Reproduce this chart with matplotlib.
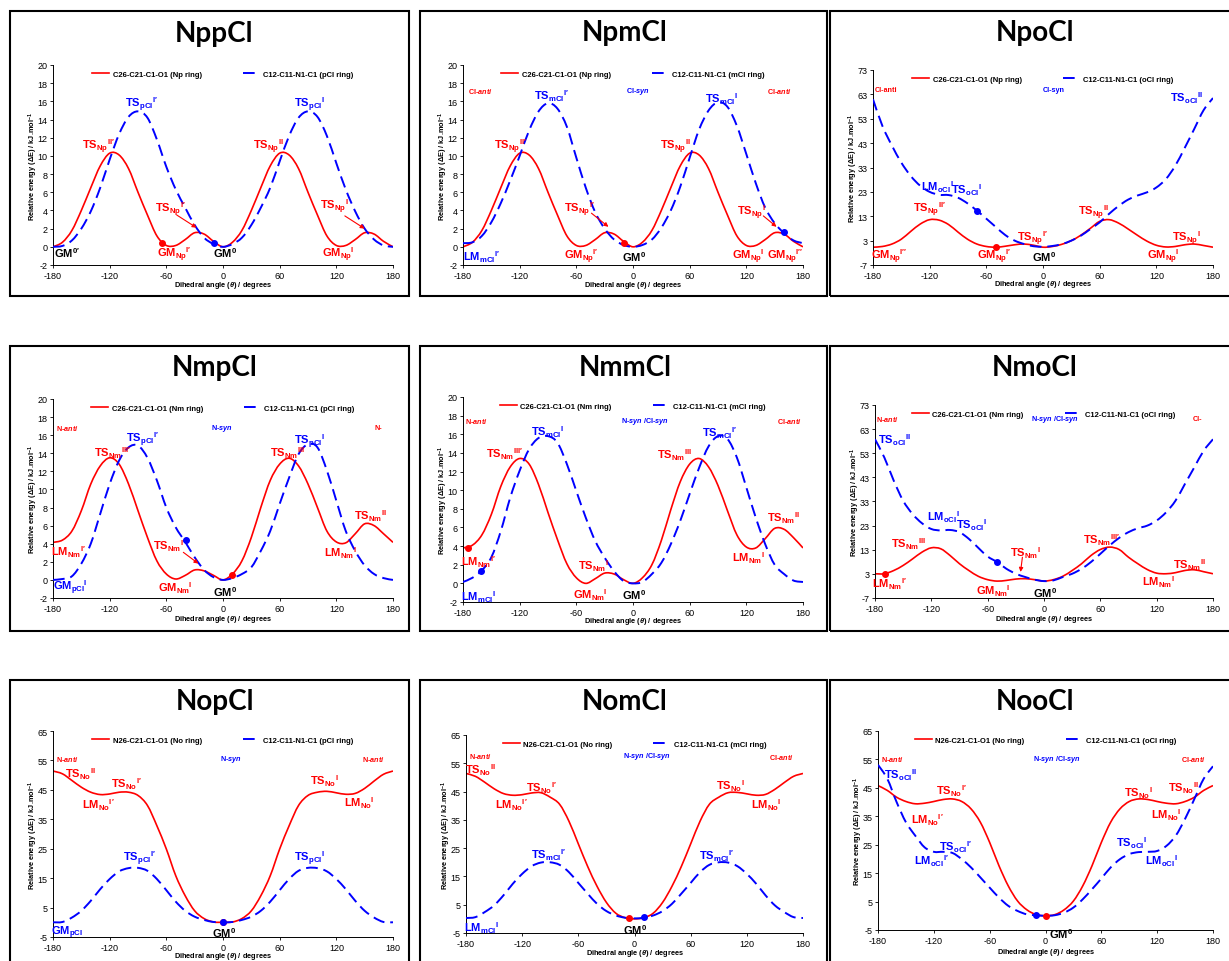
import numpy as np
import matplotlib
matplotlib.use('Agg')
import matplotlib.pyplot as plt
from matplotlib.path import Path
from matplotlib.patches import PathPatch, Rectangle
from matplotlib.lines import Line2D

plt.rcParams['font.family'] = ['Liberation Sans', 'DejaVu Sans']
plt.rcParams['axes.unicode_minus'] = False
plt.rcParams['mathtext.fontset'] = 'custom'
plt.rcParams['mathtext.rm'] = 'Liberation Sans:bold'
plt.rcParams['mathtext.bf'] = 'Liberation Sans:bold'
plt.rcParams['mathtext.sf'] = 'Liberation Sans:bold'
plt.rcParams['mathtext.it'] = 'Liberation Sans:italic:bold'

W, H = 1229, 962
RED, BLUE = '#ff0000', '#0000ff'

# dihedral angle grid (degrees)
angles = [-180, -170, -160, -150, -140, -130, -120, -110, -100, -90, -80, -70,
          -60, -50, -40, -30, -20, -10, 0, 10, 20, 30, 40, 50, 60, 70, 80, 90,
          100, 110, 120, 130, 140, 150, 160, 170, 180]

# relative energies (kJ/mol)
nppcl_np = [0, 0.5, 1.8, 4.0, 6.5, 8.9, 10.3, 10.1, 8.6, 6.0, 3.5, 1.2, 0.15, 0.15, 0.8, 1.55, 1.4, 0.6,
            0, 0.5, 1.8, 4.0, 6.5, 8.9, 10.3, 10.1, 8.6, 6.0, 3.5, 1.2, 0.15, 0.15, 0.8, 1.55, 1.4, 0.6, 0]
nppcl_pcl = [0, 0.1, 0.7, 2.0, 3.9, 6.5, 9.6, 12.4, 14.3, 14.9, 14.2, 11.8, 8.8, 6.3, 4.3, 2.4, 1.0, 0.3,
             0, 0.3, 1.0, 2.4, 4.3, 6.5, 9.4, 12.2, 14.2, 14.9, 14.3, 12.2, 9.2, 6.3, 3.9, 2.0, 0.8, 0.15, 0]

npmcl_np = [0, 0.5, 1.8, 4.0, 6.5, 8.9, 10.3, 10.1, 8.6, 6.0, 3.5, 1.2, 0.15, 0.15, 0.8, 1.55, 1.4, 0.6,
            0, 0.5, 1.8, 4.0, 6.5, 8.9, 10.3, 10.1, 8.6, 6.0, 3.5, 1.2, 0.15, 0.15, 0.8, 1.55, 1.4, 0.6, 0]
npmcl_mcl = [0.4, 0.5, 1.2, 2.7, 4.8, 7.3, 10.0, 12.8, 14.9, 15.8, 15.2, 13.2, 9.8, 6.5, 3.8, 2.0, 0.8, 0.2,
             0, 0.2, 0.8, 2.1, 4.0, 6.6, 9.8, 12.9, 15.0, 15.9, 15.4, 13.3, 10.2, 7.0, 4.3, 2.6, 1.5, 0.7, 0.4]

npocl_np = [0.3, 0.6, 1.6, 3.6, 6.8, 9.8, 11.6, 11.4, 9.6, 6.5, 3.6, 1.6, 0.6, 0.3, 0.7, 1.3, 1.6, 1.1,
            0.3, 0.6, 1.5, 3.0, 5.2, 8.0, 10.9, 11.6, 10.2, 7.8, 5.2, 2.8, 1.1, 0.4, 0.6, 1.3, 1.6, 1.0, 0.3]
npocl_ocl = [61, 50, 42, 35, 29.5, 25.5, 23, 21.8, 21.7, 20.6, 18.3, 15.3, 12, 8.6, 5.3, 3, 1.6, 0.7,
             0.5, 0.8, 1.6, 3, 5, 7.7, 10.5, 14, 17.2, 19.8, 21.5, 22.8, 24.8, 28.2, 33.7, 41, 48.7, 56.5, 61.5]

nmpcl_nm = [4.15, 4.4, 5.4, 7.65, 10.6, 12.6, 13.5, 12.8, 10.6, 7.65, 4.7, 2.1, 0.65, 0.1, 0.5, 1.1, 1.0, 0.5,
            0, 0.65, 2.1, 4.7, 8.0, 11.0, 12.8, 13.45, 12.6, 10.6, 8.0, 5.4, 4.2, 4.1, 5.1, 6.2, 6.0, 5.1, 4.15]
nmpcl_pcl = [0, 0.1, 0.4, 1.8, 4.0, 7.3, 10.6, 13.2, 14.65, 14.85, 13.5, 11.0, 8.0, 5.8, 4.2, 2.5, 1.1, 0.3,
             0, 0.2, 0.65, 1.4, 3.2, 5.4, 8.4, 11.3, 13.9, 15.0, 14.65, 12.1, 8.75, 5.4, 3.2, 1.6, 0.65, 0.2, 0]

nmmcl_nm = [3.8, 4.1, 5.2, 7.4, 10.4, 12.5, 13.4, 12.8, 10.6, 7.6, 4.7, 2.1, 0.6, 0.0, 0.5, 1.1, 1.0, 0.4,
            0, 0.6, 2.0, 4.6, 7.9, 10.9, 12.8, 13.4, 12.5, 10.5, 7.8, 5.2, 3.9, 3.8, 4.8, 5.9, 5.8, 4.9, 3.8]
nmmcl_mcl = [0.15, 0.6, 1.4, 2.8, 5.6, 9.2, 12.1, 14.4, 15.6, 15.8, 15.1, 12.8, 9.9, 7.05, 4.55, 2.76, 1.3, 0.25,
             0, 0.15, 1.0, 2.2, 4.2, 6.7, 9.6, 12.4, 14.7, 15.8, 15.5, 13.5, 10.3, 7.05, 4.2, 2.0, 1.0, 0.3, 0.15]

nmocl_nm = [3.05, 3.05, 4.4, 6.5, 9.2, 12.0, 13.8, 13.4, 10.6, 7.2, 4.4, 2.0, 0.6, 0.0, 0.3, 0.85, 1.0, 0.6,
            0, 0.6, 2.0, 4.4, 7.2, 10.6, 13.1, 14.1, 13.1, 9.9, 7.2, 4.8, 3.3, 3.05, 3.5, 4.4, 4.7, 3.9, 3.05]
nmocl_ocl = [58.8, 51.2, 41.6, 33.3, 27.8, 24, 21.6, 21, 21.2, 20.3, 17.5, 13.8, 10.2, 7.9, 5.1, 3.05, 1.7, 0.6,
             0, 0.3, 1.7, 3.05, 5.1, 7.9, 11.3, 14.8, 17.9, 20.3, 21.9, 23, 25.1, 28.5, 33.3, 40.2, 47.1, 54, 58.8]

nopcl_no = [51.4, 50.45, 48.2, 45.9, 44.2, 43.4, 43.6, 44.2, 44.2, 43.1, 39.7, 32.8, 24.9, 15.8, 9.0, 3.9, 1.25, 0.1,
            0, 0.1, 1.25, 3.9, 9.0, 15.8, 24.9, 32.8, 39.7, 43.1, 44.2, 44.5, 44.0, 43.5, 43.8, 45.5, 48.0, 50.3, 51.4]
nopcl_pcl = [0, 0.1, 1.6, 3.9, 7.3, 11.25, 14.7, 17.3, 18.4, 18.5, 17.5, 14.7, 10.9, 7.0, 3.9, 1.9, 0.8, 0.1,
             0, 0.1, 0.8, 1.9, 3.9, 7.0, 10.9, 14.7, 17.5, 18.5, 18.4, 17.3, 14.7, 11.25, 7.3, 3.9, 1.6, 0.1, 0]

nomcl_no = [51.4, 50.4, 48.3, 46.0, 44.3, 43.7, 43.9, 44.5, 44.6, 43.0, 40.5, 34.5, 26.5, 18.5, 11.5, 5.8, 2.0, 0.4,
            0, 0.4, 2.0, 5.8, 11.5, 18.5, 26.5, 34.5, 40.5, 43.0, 44.6, 44.7, 44.2, 43.7, 44.0, 45.8, 48.2, 50.4, 51.4]
nomcl_mcl = [0.3, 0.6, 2.4, 4.75, 8.3, 12.4, 15.9, 18.6, 19.9, 20.0, 19.1, 16.5, 12.7, 8.9, 5.3, 2.75, 1.2, 0.4,
             0.17, 0.4, 1.2, 2.75, 5.3, 8.9, 12.7, 16.5, 19.1, 20.0, 19.9, 18.6, 15.9, 12.4, 8.3, 4.75, 2.4, 0.6, 0.3]

noocl_no = [45.8, 44.1, 41.7, 40.2, 39.4, 39.6, 40.2, 40.9, 41.1, 40.2, 37.6, 32.9, 25.8, 17.6, 10.5, 5.2, 2.1, 0.4,
            0, 0.4, 2.1, 5.2, 10.5, 17.6, 25.8, 32.9, 37.6, 40.2, 41.1, 40.9, 40.2, 39.6, 39.4, 40.2, 41.7, 44.1, 45.8]
noocl_ocl = [53.1, 48.2, 40, 32.9, 28.2, 24.1, 22.5, 22.5, 22.1, 19.9, 17.0, 13.5, 9.9, 6.4, 3.5, 1.7, 0.5, 0.2,
             0, 0.2, 1.1, 2.9, 5.8, 9.35, 13.1, 17, 19.9, 21.7, 22.4, 22.5, 22.8, 24.6, 28.2, 34.1, 41.1, 48.2, 52.6]

titles = ['NppCl', 'NpmCl', 'NpoCl', 'NmpCl', 'NmmCl', 'NmoCl', 'NopCl', 'NomCl', 'NooCl']
red_series = [nppcl_np, npmcl_np, npocl_np, nmpcl_nm, nmmcl_nm, nmocl_nm, nopcl_no, nomcl_no, noocl_no]
blue_series = [nppcl_pcl, npmcl_mcl, npocl_ocl, nmpcl_pcl, nmmcl_mcl, nmocl_ocl, nopcl_pcl, nomcl_mcl, noocl_ocl]
red_names = ['C26-C21-C1-O1 (Np ring)'] * 3 + ['C26-C21-C1-O1 (Nm ring)'] * 3 + ['N26-C21-C1-O1 (No ring)'] * 3
blue_names = ['C12-C11-N1-C1 (pCl ring)', 'C12-C11-N1-C1 (mCl ring)', 'C12-C11-N1-C1 (oCl ring)'] * 3

ylims = [(-2, 20)] * 2 + [(-7, 73)] + [(-2, 20)] * 2 + [(-7, 73)] + [(-5, 65)] * 3
ysteps = [2, 2, 10, 2, 2, 10, 10, 10, 10]

P = '′'
# stationary point labels: (main, subscript, superscript, angle, energy, colour)
labels = [
    [('TS', 'pCl', 'I' + P, -86, 15.7, 'b'), ('TS', 'pCl', 'I', 92, 15.7, 'b'),
     ('TS', 'Np', 'II' + P, -132, 11.1, 'r'), ('TS', 'Np', 'II', 48, 11.1, 'r'),
     ('TS', 'Np', 'I' + P, -56, 4.2, 'r'), ('TS', 'Np', 'I', 118, 4.5, 'r'),
     ('GM', '', '0' + P, -165, -0.6, 'k'), ('GM', 'Np', 'I' + P, -52, -0.8, 'r'),
     ('GM', '', '0', 2, -0.6, 'k'), ('GM', 'Np', 'I', 122, -0.8, 'r')],
    [('TS', 'mCl', 'I' + P, -86, 16.7, 'b'), ('TS', 'mCl', 'I', 94, 16.4, 'b'),
     ('TS', 'Np', 'II' + P, -130, 11.1, 'r'), ('TS', 'Np', 'II', 45, 11.1, 'r'),
     ('TS', 'Np', 'I' + P, -57, 4.2, 'r'), ('TS', 'Np', 'I', 125, 3.8, 'r'),
     ('LM', 'mCl', 'I' + P, -160, -1.0, 'b'), ('GM', 'Np', 'I' + P, -55, -1.0, 'r'),
     ('GM', '', '0', 1, -1.0, 'k'), ('GM', 'Np', 'I', 122, -1.0, 'r'),
     ('GM', 'Np', 'I' + P + P, 161, -1.0, 'r')],
    [('TS', 'oCl', 'II', 152, 61.7, 'b'), ('LM', 'oCl', 'I', -112, 25.5, 'b'),
     ('TS', 'oCl', 'I', -81, 24, 'b'), ('TS', 'Np', 'II' + P, -120, 16, 'r'),
     ('TS', 'Np', 'II', 53, 14.6, 'r'), ('TS', 'Np', 'I' + P, -11, 4.3, 'r'),
     ('TS', 'Np', 'I', 152, 4.3, 'r'), ('GM', 'Np', 'I' + P + P, -163, -3.2, 'r'),
     ('GM', 'Np', 'I' + P, -52, -3.2, 'r'), ('GM', '', '0', 1, -3.2, 'k'),
     ('GM', 'Np', 'I', 127, -3.2, 'r')],
    [('TS', 'pCl', 'I' + P, -85, 15.6, 'b'), ('TS', 'pCl', 'I', 92, 15.4, 'b'),
     ('TS', 'Nm', 'III' + P, -117, 14.1, 'r'), ('TS', 'Nm', 'III', 68, 14.1, 'r'),
     ('TS', 'Nm', 'II', 156, 7.1, 'r'), ('LM', 'Nm', 'I' + P, -164, 3.2, 'r'),
     ('LM', 'Nm', 'I', 124, 3.05, 'r'), ('TS', 'Nm', 'I' + P, -57, 3.8, 'r'),
     ('GM', 'pCl', 'I', -162, -0.8, 'b'), ('GM', 'Nm', 'I', -50, -0.8, 'r'),
     ('GM', '', '0', 2, -1.2, 'k')],
    [('TS', 'mCl', 'I', -90, 16.3, 'b'), ('TS', 'mCl', 'I' + P, 92, 16.2, 'b'),
     ('TS', 'Nm', 'III' + P, -136, 14.0, 'r'), ('TS', 'Nm', 'III', 44, 13.85, 'r'),
     ('TS', 'Nm', 'II', 159, 7.05, 'r'), ('LM', 'Nm', 'I' + P, -164, 2.4, 'r'),
     ('LM', 'mCl', 'I', -164, -1.35, 'b'), ('TS', 'Nm', 'I', -42, 2.0, 'r'),
     ('GM', 'Nm', 'I', -45, -1.2, 'r'), ('GM', '', '0', 1, -1.2, 'k'),
     ('LM', 'Nm', 'I', 122, 2.76, 'r')],
    [('TS', 'oCl', 'II', -159, 58.8, 'b'), ('LM', 'oCl', 'I', -107, 27.1, 'b'),
     ('TS', 'oCl', 'I', -77, 23.7, 'b'), ('TS', 'Nm', 'III', -144, 15.7, 'r'),
     ('TS', 'Nm', 'III' + P, 61, 17.5, 'r'), ('TS', 'Nm', 'I', -20, 12, 'r'),
     ('TS', 'Nm', 'II', 155, 7.2, 'r'), ('LM', 'Nm', 'I' + P, -165, -0.8, 'r'),
     ('GM', 'Nm', 'I', -54, -3.6, 'r'), ('GM', '', '0', 1, -4.5, 'k'),
     ('LM', 'Nm', 'I', 122, 0, 'r')],
    [('TS', 'No', 'II', -151, 50.7, 'r'), ('TS', 'No', 'I' + P, -102, 47.4, 'r'),
     ('LM', 'No', 'I' + P, -132, 40.2, 'r'), ('TS', 'No', 'I', 107, 48.2, 'r'),
     ('LM', 'No', 'I', 144, 40.8, 'r'), ('TS', 'pCl', 'I' + P, -88, 22.0, 'b'),
     ('TS', 'pCl', 'I', 91, 22.0, 'b'), ('GM', 'pCl', '', -165, -3.3, 'b'),
     ('GM', '', '0', 1, -3.5, 'k')],
    [('TS', 'No', 'II', -165, 52.9, 'r'), ('TS', 'No', 'I' + P, -99, 46.4, 'r'),
     ('LM', 'No', 'I' + P, -131, 40.6, 'r'), ('TS', 'No', 'I', 102, 47.3, 'r'),
     ('LM', 'No', 'I', 141, 40.6, 'r'), ('TS', 'mCl', 'I' + P, -92, 23, 'b'),
     ('TS', 'mCl', 'I' + P, 88, 22.4, 'b'), ('LM', 'mCl', 'I', -163, -2.9, 'b'),
     ('GM', '', '0', 1, -3.7, 'k')],
    [('TS', 'oCl', 'II', -156, 49.9, 'b'), ('TS', 'No', 'I' + P, -101, 44, 'r'),
     ('LM', 'No', 'I' + P, -127, 34, 'r'), ('TS', 'oCl', 'I' + P, -97, 24.6, 'b'),
     ('LM', 'oCl', 'I' + P, -122, 19.4, 'b'), ('TS', 'No', 'I', 100, 43.5, 'r'),
     ('TS', 'No', 'II', 148, 45.2, 'r'), ('LM', 'No', 'I', 130, 35.8, 'r'),
     ('TS', 'oCl', 'I', 92, 25.8, 'b'), ('LM', 'oCl', 'I', 125, 19.4, 'b'),
     ('GM', '', '0', 17, -6.2, 'k')],
]

ANTI = '$\\mathit{anti}$'
SYN = '$\\mathit{syn}$'
regions = [
    [],
    [('Cl-' + ANTI, -162, 17.2, 'r'), ('Cl-' + SYN, 5, 17.2, 'b'), ('Cl-' + ANTI, 155, 17.2, 'r')],
    [('Cl-anti', -166, 65, 'r'), ('Cl-syn', 11, 65, 'b')],
    [('N-' + ANTI, -165, 16.9, 'r'), ('N-' + SYN, -1, 16.9, 'b'), ('N-', 164, 16.9, 'r')],
    [('N-' + ANTI, -166, 17.5, 'r'), ('N-' + SYN + ' /Cl-' + SYN, 13, 17.5, 'b'), ('Cl-' + ANTI, 166, 17.5, 'r')],
    [('N-' + ANTI, -167, 67.5, 'r'), ('N-' + SYN + ' /Cl-' + SYN, 12, 67.5, 'b'), ('Cl-', 164, 67.5, 'r')],
    [('N-' + ANTI, -165, 55.6, 'r'), ('N-' + SYN, 8, 55.6, 'b'), ('N-' + ANTI, 159, 55.6, 'r')],
    [('N-' + ANTI, -165, 57.6, 'r'), ('N-' + SYN + ' /Cl-' + SYN, 13, 57.6, 'b'), ('Cl-' + ANTI, 157, 57.3, 'r')],
    [('N-' + ANTI, -165, 55.5, 'r'), ('N-' + SYN + ' /Cl-' + SYN, 12, 55.5, 'b'), ('Cl-' + ANTI, 159, 55.5, 'r')],
]

# arrows: (from angle, from energy, to angle, to energy)
arrows = [
    [(-49, 3.5, -28, 2.1), (129, 3.4, 150, 2.0)],
    [(-44, 3.7, -26, 2.2), (138, 3.4, 152, 2.2)],
    [],
    [(-42, 3.05, -26, 1.8)],
    [],
    [(-23, 9.9, -25, 3.8)],
    [], [], [],
]

# highlighted points: (angle, energy, colour)
markers = [
    [(-65, 0.38, 'r'), (-10, 0.45, 'b')],
    [(-10, 0.45, 'r'), (160, 1.6, 'b')],
    [(-70, 15.3, 'b'), (-50, 0.3, 'r')],
    [(-39.4, 4.4, 'b'), (10, 0.5, 'r')],
    [(-174.7, 3.8, 'r'), (-160.5, 1.3, 'b')],
    [(-169, 3.0, 'r'), (-50, 7.9, 'b')],
    [(0, 0, 'r'), (0, 0, 'b')],
    [(-5.5, 0.4, 'r'), (10, 0.6, 'b')],
    [(-10.5, 0.4, 'b'), (0, 0, 'r')],
]

# layout in pixels
boxes_x = [(10, 409), (420, 827), (830, 1240)]
boxes_y = [(12, 297), (347, 632), (681, 975)]
title_pos = [(214, 34), (625, 33), (1035, 33), (215, 368), (625, 368), (1035, 368),
             (215, 702), (625, 702), (1035, 702)]
axes_px = [(53, 66, 393, 266), (463, 66, 803, 266), (873, 71, 1213, 266),
           (53, 400, 393, 599), (463, 398, 803, 603), (875, 406, 1213, 599),
           (53, 732, 393, 938), (466, 736, 803, 934), (878, 732, 1213, 931)]
xlab_off = [20, 20, 19, 21, 19, 21, 19, 20, 22]

cmap = {'r': RED, 'b': BLUE, 'k': 'black'}


def smooth_line(ax, x, y, **kw):
    # Excel-like smoothed line through the data points
    pts = np.column_stack([x, y]).astype(float)
    n = len(pts)
    verts = [pts[0]]
    codes = [Path.MOVETO]
    for i in range(n - 1):
        p0 = pts[max(i - 1, 0)]
        p1 = pts[i]
        p2 = pts[i + 1]
        p3 = pts[min(i + 2, n - 1)]
        verts += [p1 + (p2 - p0) / 6, p2 - (p3 - p1) / 6, p2]
        codes += [Path.CURVE4] * 3
    ax.add_patch(PathPatch(Path(verts, codes), fill=False, **kw))


def tag(main, sub, sup):
    # subscript then superscript, one after the other like in the original
    s = main + '$'
    if sub:
        s += '_{\\mathbf{' + sub + '}}'
    if sup:
        s += '{}^{\\mathbf{' + sup + '}}'
    return s + '$'


fig = plt.figure(figsize=(W / 100, H / 100), dpi=100)

for (x0, x1) in boxes_x:
    for (y0, y1) in boxes_y:
        fig.add_artist(Rectangle((x0 / W, 1 - y1 / H), (x1 - x0) / W, (y1 - y0) / H,
                                 transform=fig.transFigure, fill=False, ec='black', lw=1.5))

red_kw = dict(color=RED, lw=1.2)
blue_kw = dict(color=BLUE, lw=1.4, linestyle=(0, (6, 3)))

for k in range(9):
    l, t, r, b = axes_px[k]
    ax = fig.add_axes([l / W, 1 - b / H, (r - l) / W, (b - t) / H])
    fig.text(title_pos[k][0] / W, 1 - title_pos[k][1] / H, titles[k], ha='center', va='center',
             fontsize=20, fontweight='bold', family=['Lato', 'DejaVu Sans'])

    smooth_line(ax, angles, red_series[k], ec=RED, lw=1.2, zorder=2)
    smooth_line(ax, angles, blue_series[k], ec=BLUE, lw=1.4, linestyle=(0, (6, 3)), zorder=3)

    lo, hi = ylims[k]
    ax.set_xlim(-180, 180)
    ax.set_ylim(lo, hi)
    ax.set_xticks(range(-180, 181, 60))
    ax.set_yticks(range(lo, hi + 1, ysteps[k]))
    ax.tick_params(labelsize=6.5, length=2.5, width=0.6, pad=1.5, direction='out')
    for side in ['top', 'right']:
        ax.spines[side].set_visible(False)
    for side in ['left', 'bottom']:
        ax.spines[side].set_linewidth(0.7)

    handles = [Line2D([], [], **red_kw), Line2D([], [], **blue_kw)]
    ax.legend(handles, [red_names[k], blue_names[k]], loc='upper center',
              bbox_to_anchor=(0.5, 1.0), ncol=2, frameon=False, handlelength=2.2,
              handletextpad=0.45, columnspacing=5.4, borderaxespad=0.3,
              prop={'size': 5.5, 'weight': 'bold'})

    ax.text(0.5, -xlab_off[k] / (b - t), 'Dihedral angle ($\\mathit{θ}$) / degrees',
            transform=ax.transAxes, ha='center', va='center', fontsize=5.3, fontweight='bold')
    ax.text(-20 / (r - l), 0.5, 'Relative energy (ΔE) / kJ.mol$^{\\mathbf{-1}}$',
            transform=ax.transAxes, ha='center', va='center', rotation=90,
            fontsize=5.3, fontweight='bold')

    for (main, sub, sup, xa, ya, c) in labels[k]:
        ax.text(xa, ya, tag(main, sub, sup), color=cmap[c], ha='center', va='center',
                fontsize=8, fontweight='bold', zorder=6)
    for (txt, xa, ya, c) in regions[k]:
        ax.text(xa, ya, txt, color=cmap[c], ha='center', va='center',
                fontsize=5.2, fontweight='bold', zorder=6)
    for (xs, ys, xe, ye) in arrows[k]:
        ax.annotate('', xy=(xe, ye), xytext=(xs, ys),
                    arrowprops=dict(arrowstyle='-|>', color=RED, lw=0.8, mutation_scale=6,
                                    shrinkA=0, shrinkB=0))
    for (xa, ya, c) in markers[k]:
        ax.plot([xa], [ya], 'o', color=cmap[c], ms=4, zorder=7, clip_on=False)

fig.savefig('out.png', dpi=100)
